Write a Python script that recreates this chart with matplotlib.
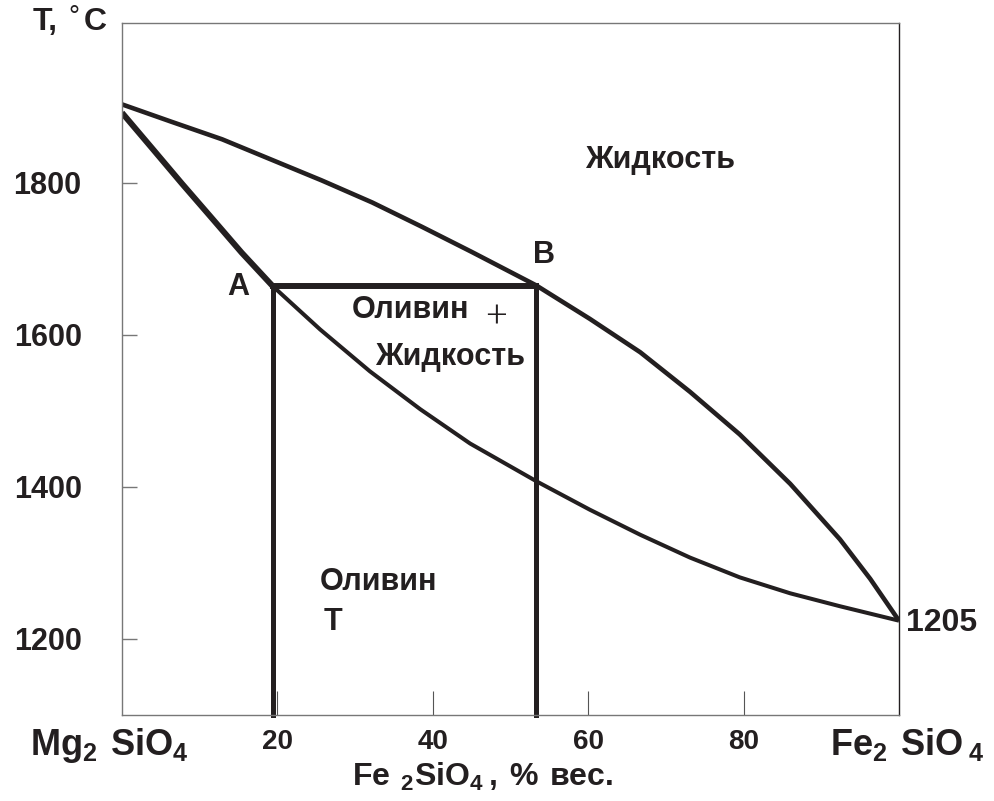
import matplotlib
matplotlib.use('Agg')
import matplotlib.pyplot as plt

plt.rcParams['font.family'] = ['Liberation Sans', 'DejaVu Sans']
plt.rcParams['font.weight'] = 'bold'
plt.rcParams['mathtext.fontset'] = 'custom'
plt.rcParams['mathtext.bf'] = 'Liberation Sans:bold'
plt.rcParams['mathtext.rm'] = 'Liberation Sans:bold'

INK = '#231f20'

# liquidus (upper curve), % Fe2SiO4 vs T
liq_x = [0, 6.4, 12.9, 19.3, 25.7, 32.2, 38.6, 45.0, 53.3, 60.2, 66.7, 73.1, 79.5, 86.0, 92.4, 96.3, 100]
liq_t = [1903, 1880, 1857, 1830, 1803, 1774, 1742, 1709, 1665, 1621, 1577, 1525, 1469, 1404, 1331, 1279, 1224]

# solidus (lower curve)
sol_x = [0, 3.9, 7.7, 11.6, 15.4, 19.4, 25.5, 31.9, 38.4, 44.8, 53.4, 60.2, 66.7, 73.1, 79.5, 86.0, 92.4, 100]
sol_t = [1892, 1845, 1799, 1753, 1708, 1664, 1607, 1552, 1502, 1457, 1407, 1370, 1337, 1307, 1281, 1260, 1243, 1224]
iA = 5  # index of point A in the solidus

# tie line A-B
xA, xB, t_AB = 19.4, 53.3, 1664

xticks = [20, 40, 60, 80]
yticks = [1200, 1400, 1600, 1800]

fig = plt.figure(figsize=(9.94, 8.01), dpi=100)
ax = fig.add_axes([0.1227, 0.1074, 0.7817, 0.8639])
ax.set_xlim(0, 100)
ax.set_ylim(1100, 2010)

ax.plot(liq_x, liq_t, color=INK, lw=3.3, solid_capstyle='butt', solid_joinstyle='round')
ax.plot(sol_x[:iA + 1], sol_t[:iA + 1], color=INK, lw=4.3, solid_capstyle='butt', solid_joinstyle='round')
ax.plot(sol_x[iA:], sol_t[iA:], color=INK, lw=2.9, solid_capstyle='butt', solid_joinstyle='round')

ax.plot([xA, xB], [t_AB, t_AB], color=INK, lw=4.3, solid_capstyle='projecting')
ax.plot([xA, xA], [t_AB, 1100], color=INK, lw=3.6, clip_on=False)
ax.plot([xB, xB], [t_AB, 1100], color=INK, lw=3.6, clip_on=False)

for s in ['left', 'top', 'bottom']:
    ax.spines[s].set_color('#777777')
    ax.spines[s].set_linewidth(1.0)
ax.spines['right'].set_color(INK)
ax.spines['right'].set_linewidth(1.0)

ax.set_xticks(xticks)
ax.set_xticklabels([str(v) for v in xticks], fontsize=20, fontweight='bold', color=INK)
ax.set_yticks(yticks)
ax.set_yticklabels([str(v) for v in yticks], fontsize=22, fontweight='bold', color=INK)
ax.tick_params(axis='x', direction='in', length=17, width=0.8, color='#555555', pad=10)
ax.tick_params(axis='y', direction='in', length=11, width=1.0, color='#777777', pad=29)

tk = dict(color=INK, fontweight='bold', clip_on=False)
ax.text(59.6, 1830, 'Жидкость', fontsize=22, va='center', ha='left', **tk)
ax.text(29.6, 1632, 'Оливин', fontsize=22, va='center', ha='left', **tk)
ax.text(46.8, 1622, '+', fontsize=28, va='center', ha='left', color=INK,
        family='Liberation Serif', fontweight='normal')
ax.text(32.6, 1571, 'Жидкость', fontsize=22, va='center', ha='left', **tk)
ax.text(25.5, 1275, 'Оливин', fontsize=22, va='center', ha='left', **tk)
ax.text(25.9, 1222, 'T', fontsize=22, va='center', ha='left', **tk)
ax.text(13.6, 1663, 'A', fontsize=22, va='center', ha='left', **tk)
ax.text(52.9, 1705, 'B', fontsize=22, va='center', ha='left', **tk)
ax.text(100.9, 1221, '1205', fontsize=23, va='center', ha='left', **tk)

fig.text(0.033, 0.972, 'T,', fontsize=23, ha='left', va='center', color=INK, fontweight='bold')
fig.text(0.069, 0.977, '°', fontsize=20, ha='left', va='center', color=INK, fontweight='normal')
fig.text(0.084, 0.972, 'C', fontsize=23, ha='left', va='center', color=INK, fontweight='bold')

fig.text(0.030, 0.0574, r'$\mathbf{Mg_2\ SiO_4}$', fontsize=26, ha='left', va='baseline', color=INK)
fig.text(0.835, 0.0574, r'$\mathbf{Fe_2\ SiO\,{}_4}$', fontsize=26, ha='left', va='baseline', color=INK)
fig.text(0.354, 0.019, r'$\mathbf{Fe\ {}_2SiO_4\,,\,\%\ вес.}$', fontsize=23, ha='left',
         va='baseline', color=INK)

fig.savefig('out.png', dpi=100)
